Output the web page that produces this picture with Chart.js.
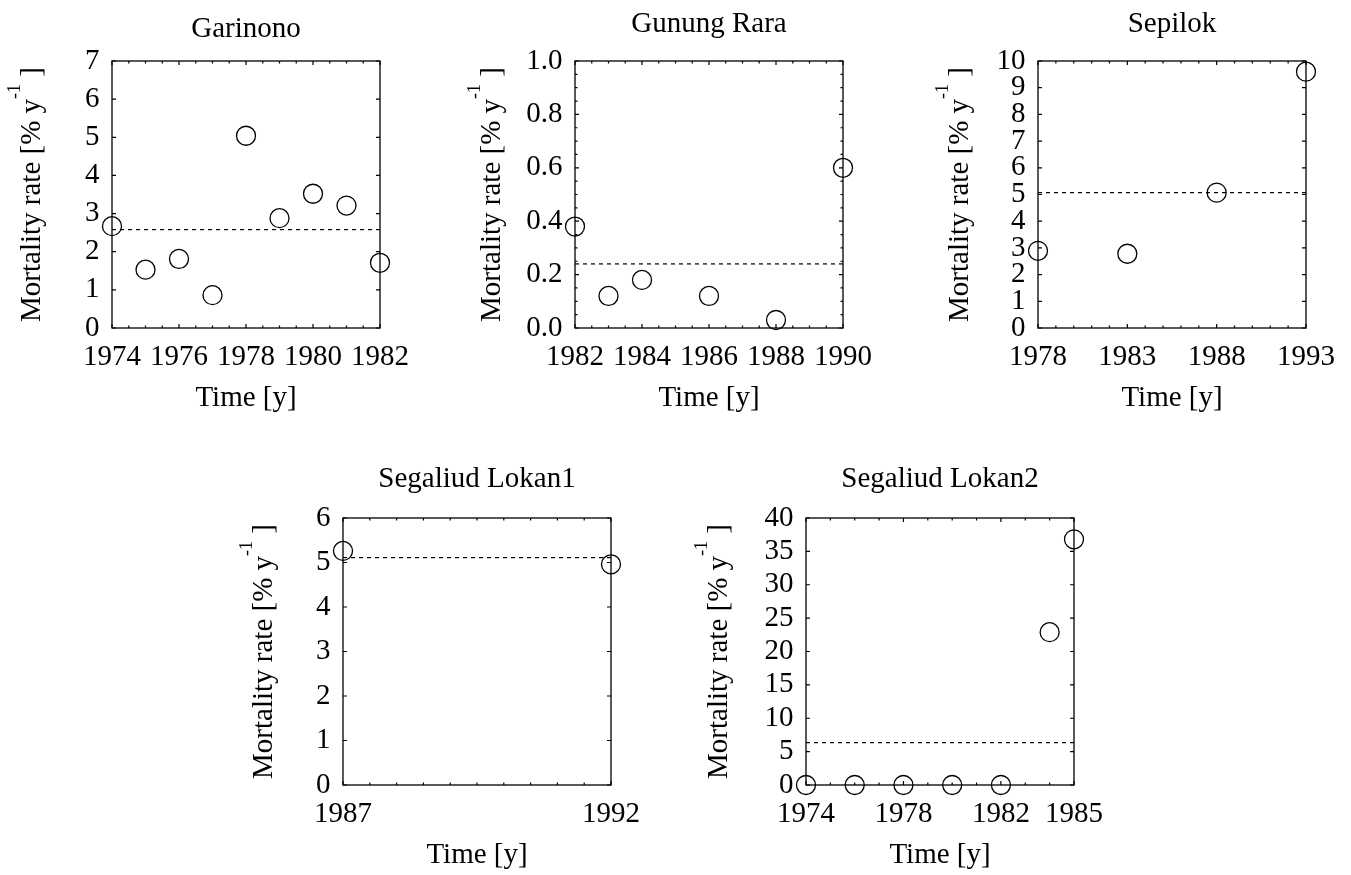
<!DOCTYPE html>
<html>
<head>
<meta charset="utf-8">
<title>Mortality rate</title>
<script src="https://cdn.jsdelivr.net/npm/chart.js@4.4.1/dist/chart.umd.min.js"></script>
<style>
    html, body { margin: 0; padding: 0; background: #ffffff; }
    #page { position: relative; width: 1351px; height: 875px; overflow: hidden; }
    .panel { position: absolute; }
</style>
</head>
<body>
<div id="page"></div>
<script>
// values
const garinonoYears = [1974, 1975, 1976, 1977, 1978, 1979, 1980, 1981, 1982];
const garinonoRates = [2.67, 1.53, 1.81, 0.86, 5.04, 2.88, 3.52, 3.21, 1.71];
const garinonoMean = 2.58;
const garinonoXTicks = [1974, 1976, 1978, 1980, 1982];
const garinonoYTicks = [0, 1, 2, 3, 4, 5, 6, 7];

const gunungRaraYears = [1982, 1983, 1984, 1986, 1988, 1990];
const gunungRaraRates = [0.38, 0.12, 0.18, 0.12, 0.03, 0.60];
const gunungRaraMean = 0.24;
const gunungRaraXTicks = [1982, 1984, 1986, 1988, 1990];
const gunungRaraYTicks = [0, 0.2, 0.4, 0.6, 0.8, 1.0];

const sepilokYears = [1978, 1983, 1988, 1993];
const sepilokRates = [2.89, 2.78, 5.07, 9.60];
const sepilokMean = 5.07;
const sepilokXTicks = [1978, 1983, 1988, 1993];
const sepilokYTicks = [0, 1, 2, 3, 4, 5, 6, 7, 8, 9, 10];

const lokan1Years = [1987, 1992];
const lokan1Rates = [5.26, 4.96];
const lokan1Mean = 5.11;
const lokan1XTicks = [1987, 1992];
const lokan1YTicks = [0, 1, 2, 3, 4, 5, 6];

const lokan2Years = [1974, 1976, 1978, 1980, 1982, 1984, 1985];
const lokan2Rates = [0, 0, 0, 0, 0, 22.9, 36.8];
const lokan2Mean = 6.35;
const lokan2XTicks = [1974, 1978, 1982, 1985];
const lokan2YTicks = [0, 5, 10, 15, 20, 25, 30, 35, 40];

const FONT = '"Liberation Serif", "Times New Roman", serif';
const FONT_SIZE = 29;
const PLOT_W = 268;
const PLOT_H = 267;
const LEFT_SPACE = 112;
const RIGHT_SPACE = 45;

const panels = [
    { title: 'Garinono', years: garinonoYears, rates: garinonoRates, mean: garinonoMean,
      xTicks: garinonoXTicks, yTicks: garinonoYTicks, xMinor: 0.5, yMinor: 1, digits: 0,
      left: 112, top: 61, boxTop: 0, boxH: 423, titleGap: 24, yLabelGap: 72 },
    { title: 'Gunung Rara', years: gunungRaraYears, rates: gunungRaraRates, mean: gunungRaraMean,
      xTicks: gunungRaraXTicks, yTicks: gunungRaraYTicks, xMinor: 0.5, yMinor: 0.05, digits: 1,
      left: 575, top: 61, boxTop: 0, boxH: 423, titleGap: 29, yLabelGap: 75 },
    { title: 'Sepilok', years: sepilokYears, rates: sepilokRates, mean: sepilokMean,
      xTicks: sepilokXTicks, yTicks: sepilokYTicks, xMinor: 1, yMinor: 1, digits: 0,
      left: 1038, top: 61, boxTop: 0, boxH: 423, titleGap: 29, yLabelGap: 70 },
    { title: 'Segaliud Lokan1', years: lokan1Years, rates: lokan1Rates, mean: lokan1Mean,
      xTicks: lokan1XTicks, yTicks: lokan1YTicks, xMinor: 0.5, yMinor: 1, digits: 0,
      left: 343, top: 518, boxTop: 438, boxH: 437, titleGap: 31, yLabelGap: 71 },
    { title: 'Segaliud Lokan2', years: lokan2Years, rates: lokan2Rates, mean: lokan2Mean,
      xTicks: lokan2XTicks, yTicks: lokan2YTicks, xMinor: 1, yMinor: 5, digits: 0,
      left: 806, top: 518, boxTop: 438, boxH: 437, titleGap: 31, yLabelGap: 79 },
];

const isMajor = (list, v) => list.some((t) => Math.abs(t - v) < 1e-6);

const panelDecor = {
    id: 'panelDecor',
    beforeDatasetsDraw(chart, args, opts) {
        const ctx = chart.ctx;
        const area = chart.chartArea;
        const xs = chart.scales.x;
        const ys = chart.scales.y;

        ctx.save();
        ctx.strokeStyle = '#000000';
        ctx.lineWidth = 1.3;
        ctx.strokeRect(area.left, area.top, area.right - area.left, area.bottom - area.top);

        ctx.lineWidth = 1.2;
        ctx.beginPath();
        for (let i = 0; ; i++) {
            const v = xs.min + i * opts.xMinor;
            if (v > xs.max + 1e-6) break;
            const px = xs.getPixelForValue(v);
            const len = isMajor(opts.xTicks, v) ? 4 : 2.5;
            ctx.moveTo(px, area.bottom);
            ctx.lineTo(px, area.bottom - len);
            ctx.moveTo(px, area.top);
            ctx.lineTo(px, area.top + len);
        }
        for (let i = 0; ; i++) {
            const v = ys.min + i * opts.yMinor;
            if (v > ys.max + 1e-6) break;
            const py = ys.getPixelForValue(v);
            const len = isMajor(opts.yTicks, v) ? 4 : 2.5;
            ctx.moveTo(area.left, py);
            ctx.lineTo(area.left + len, py);
            ctx.moveTo(area.right, py);
            ctx.lineTo(area.right - len, py);
        }
        ctx.stroke();
        ctx.restore();
    },
    afterDraw(chart, args, opts) {
        const ctx = chart.ctx;
        const area = chart.chartArea;
        const cx = (area.left + area.right) / 2;
        const cy = (area.top + area.bottom) / 2;

        ctx.save();
        ctx.fillStyle = '#000000';
        ctx.textAlign = 'center';
        ctx.textBaseline = 'alphabetic';
        ctx.font = `${FONT_SIZE}px ${FONT}`;
        ctx.fillText(opts.title, cx, area.top - opts.titleGap);
        ctx.fillText('Time [y]', cx, area.bottom + 78);

        // y axis title with superscript
        const main = 'Mortality rate [% y';
        const sup = '-1';
        const tail = ' ]';
        ctx.font = `${FONT_SIZE}px ${FONT}`;
        const w1 = ctx.measureText(main).width;
        const w3 = ctx.measureText(tail).width;
        ctx.font = `18px ${FONT}`;
        const w2 = ctx.measureText(sup).width;
        const total = w1 + w2 + w3;

        ctx.translate(area.left - opts.yLabelGap, cy);
        ctx.rotate(-Math.PI / 2);
        ctx.textAlign = 'left';
        let x = -total / 2;
        ctx.font = `${FONT_SIZE}px ${FONT}`;
        ctx.fillText(main, x, 0);
        x += w1;
        ctx.font = `18px ${FONT}`;
        ctx.fillText(sup, x, -20);
        x += w2;
        ctx.font = `${FONT_SIZE}px ${FONT}`;
        ctx.fillText(tail, x, 0);
        ctx.restore();
    },
};

const page = document.getElementById('page');

panels.forEach((panel) => {
    const box = document.createElement('div');
    box.className = 'panel';
    box.style.left = `${panel.left - LEFT_SPACE}px`;
    box.style.top = `${panel.boxTop}px`;
    box.style.width = `${LEFT_SPACE + PLOT_W + RIGHT_SPACE}px`;
    box.style.height = `${panel.boxH}px`;
    const canvas = document.createElement('canvas');
    box.appendChild(canvas);
    page.appendChild(box);

    const padTop = panel.top - panel.boxTop;
    const xHeight = panel.boxH - padTop - PLOT_H;
    const xMin = panel.xTicks[0];
    const xMax = panel.xTicks[panel.xTicks.length - 1];
    const yMin = panel.yTicks[0];
    const yMax = panel.yTicks[panel.yTicks.length - 1];

    new Chart(canvas, {
        type: 'scatter',
        data: {
            datasets: [
                {
                    data: panel.years.map((year, index) => ({ x: year, y: panel.rates[index] })),
                    pointStyle: 'circle',
                    pointRadius: 9.5,
                    pointHoverRadius: 9.5,
                    pointBorderWidth: 1.3,
                    pointBorderColor: '#000000',
                    pointBackgroundColor: 'rgba(0,0,0,0)',
                    showLine: false,
                    clip: false,
                },
                {
                    type: 'line',
                    data: [{ x: xMin, y: panel.mean }, { x: xMax, y: panel.mean }],
                    borderColor: '#000000',
                    borderWidth: 1.2,
                    borderDash: [4, 4],
                    pointRadius: 0,
                    fill: false,
                },
            ],
        },
        plugins: [panelDecor],
        options: {
            responsive: true,
            maintainAspectRatio: false,
            animation: false,
            layout: {
                padding: { left: 0, top: padTop, right: RIGHT_SPACE, bottom: 0 },
            },
            scales: {
                x: {
                    type: 'linear',
                    min: xMin,
                    max: xMax,
                    grid: { display: false, drawTicks: false },
                    border: { display: false },
                    afterBuildTicks: (scale) => {
                        scale.ticks = panel.xTicks.map((value) => ({ value }));
                    },
                    afterFit: (scale) => {
                        scale.height = xHeight;
                    },
                    ticks: {
                        autoSkip: false,
                        maxRotation: 0,
                        padding: 12,
                        color: '#000000',
                        font: { family: FONT, size: FONT_SIZE },
                        callback: (value) => String(value),
                    },
                },
                y: {
                    type: 'linear',
                    min: yMin,
                    max: yMax,
                    grid: { display: false, drawTicks: false },
                    border: { display: false },
                    afterBuildTicks: (scale) => {
                        scale.ticks = panel.yTicks.map((value) => ({ value }));
                    },
                    afterFit: (scale) => {
                        scale.width = LEFT_SPACE;
                    },
                    ticks: {
                        autoSkip: false,
                        padding: 12.5,
                        color: '#000000',
                        font: { family: FONT, size: FONT_SIZE },
                        callback: (value) => Number(value).toFixed(panel.digits),
                    },
                },
            },
            plugins: {
                legend: { display: false },
                tooltip: { enabled: false },
                panelDecor: panel,
            },
        },
    });
});
</script>
</body>
</html>
